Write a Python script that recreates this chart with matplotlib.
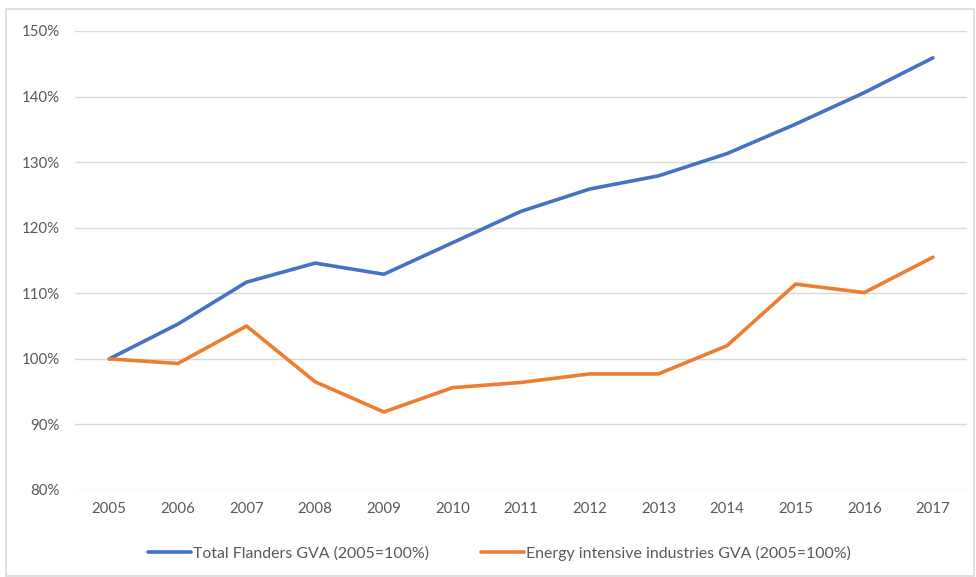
import matplotlib.pyplot as plt
from matplotlib.patches import Rectangle
from matplotlib.ticker import PercentFormatter

# Values (index, 2005 = 100%)
years = ['2005', '2006', '2007', '2008', '2009', '2010', '2011',
         '2012', '2013', '2014', '2015', '2016', '2017']
total_gva = [100.0, 105.3, 111.7, 114.6, 112.9, 117.7, 122.5,
             125.9, 127.9, 131.3, 135.8, 140.6, 145.9]
energy_gva = [100.0, 99.3, 105.0, 96.5, 91.9, 95.6, 96.4,
              97.7, 97.7, 102.0, 111.4, 110.1, 115.5]

plt.rcParams['font.family'] = ['Lato', 'DejaVu Sans']

fig = plt.figure(figsize = (9.76, 5.77), dpi = 100)
ax = fig.add_axes([0.0768, 0.1508, 0.9142, 0.7955])

# light frame around the whole chart
fig.patches.append(Rectangle((0.006, 0.002), 0.992, 0.983, transform = fig.transFigure,
                             fill = False, edgecolor = '#d9d9d9', linewidth = 1.2))

x = range(len(years))
ax.plot(x, total_gva, color = '#4472c4', linewidth = 2.6, solid_capstyle = 'round',
        label = 'Total Flanders GVA (2005=100%)')
ax.plot(x, energy_gva, color = '#ed7d31', linewidth = 2.6, solid_capstyle = 'round',
        label = 'Energy intensive industries GVA (2005=100%)')

ax.set_xlim(-0.5, len(years) - 0.5)
ax.set_ylim(80, 150)
ax.set_yticks(range(80, 151, 10))
ax.yaxis.set_major_formatter(PercentFormatter(decimals = 0))
ax.set_xticks(list(x))
ax.set_xticklabels(years)

ax.grid(axis = 'y', color = '#d9d9d9', linewidth = 1)
ax.set_axisbelow(True)
for s in ax.spines.values():
    s.set_visible(False)
ax.tick_params(length = 0, labelsize = 10.8, labelcolor = '#595959')
ax.tick_params(axis = 'x', pad = 9)
ax.tick_params(axis = 'y', pad = 11)

ax.legend(loc = 'upper center', bbox_to_anchor = (0.476, -0.09), ncol = 2, frameon = False,
          fontsize = 11.4, labelcolor = '#595959', handlelength = 2.7, handletextpad = 0.15,
          columnspacing = 3.3)

fig.savefig('out.png', dpi = 100)
